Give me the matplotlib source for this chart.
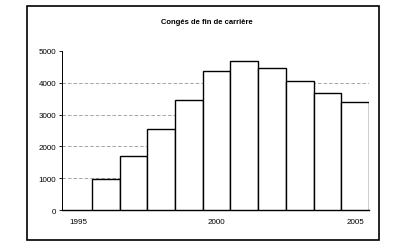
import numpy as np
import matplotlib.pyplot as plt
from matplotlib.patches import Rectangle

plt.rcParams['font.family'] = ['Liberation Sans', 'DejaVu Sans']

# data
years = [1996, 1997, 1998, 1999, 2000, 2001, 2002, 2003, 2004, 2005]
conges = [960, 1690, 2560, 3450, 4380, 4680, 4450, 4050, 3690, 3390]
yticks = [0, 1000, 2000, 3000, 4000, 5000]
xticks = [1995, 2000, 2005]
title = 'Congés de fin de carrière'

fig = plt.figure(figsize=(4.02, 2.51), dpi=100)
ax = fig.add_axes([62/402, 1-211/251, 307/402, 159/251])

# outer frame of the chart
fig.patches.append(Rectangle((27/402, 1-241/251), 352/402, 234/251,
                             transform=fig.transFigure, fill=False,
                             edgecolor='k', lw=1.2))

ax.bar(years, conges, width=1.0, color='white', edgecolor='k', lw=1.0, zorder=3)

# dashed grid behind bars (faded on the scan)
for v in yticks[1:-1]:
    ax.axhline(v, color='0.5', lw=0.5, ls=(0, (5, 3)), zorder=1)

ax.set_xlim(1994.42, 2005.5)
ax.set_ylim(0, 5000)
ax.set_yticks(yticks)
ax.set_xticks(xticks)
ax.tick_params(axis='y', labelsize=5.8, length=2, width=0.6, pad=2)
ax.tick_params(axis='x', labelsize=5.8, length=0, pad=6)
for s in ['top', 'right']:
    ax.spines[s].set_visible(False)
ax.spines['left'].set_linewidth(0.7)
ax.spines['bottom'].set_linewidth(1.0)

fig.text(207/402, 1-22/251, title, ha='center', va='center',
         fontsize=5.5, fontweight='bold')

fig.savefig('out.png', dpi=100)
plt.close()
